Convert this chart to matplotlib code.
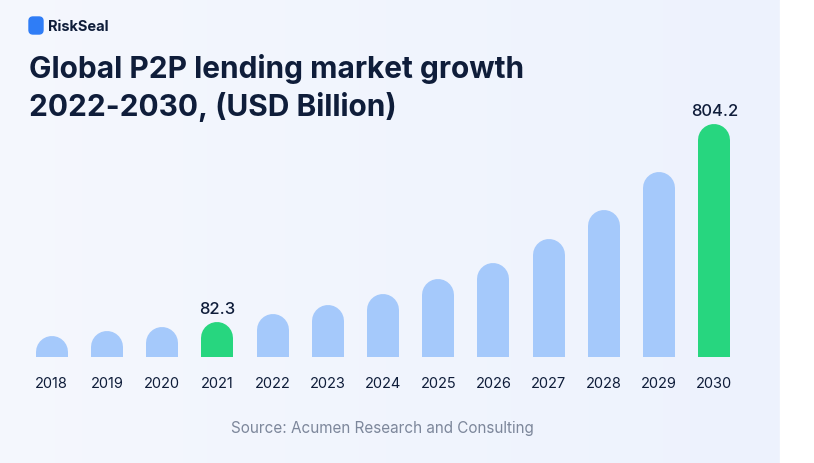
import matplotlib
matplotlib.use("Agg")
import matplotlib.pyplot as plt
import numpy as np
from matplotlib.patches import FancyBboxPatch, Rectangle

years = ["2018","2019","2020","2021","2022","2023","2024","2025","2026","2027","2028","2029","2030"]
values = [31, 49, 64, 82.3, 111, 144, 184, 239, 297, 385, 491, 629, 804.2]
highlight = {"2021": "82.3", "2030": "804.2"}

W, H = 814, 463
fig = plt.figure(figsize=(W/100, H/100), dpi=100)
bg = fig.add_axes([0, 0, 1, 1], zorder=-10)
bg.set_xlim(0, W); bg.set_ylim(H, 0); bg.axis("off")
grad = np.linspace(0, 1, 200)[None, :]
bg.imshow(np.dstack([0.96 - 0.03*grad, 0.97 - 0.02*grad, 0.995 + 0*grad]), extent=[0, 780, H, 0], aspect="auto")
bg.add_patch(Rectangle((780, 0), W-780, H, color="white"))
bg.add_patch(FancyBboxPatch((29, 17), 14, 17, boxstyle="round,pad=0,rounding_size=4", color="#2f7df6"))
bg.text(48, 27, "RiskSeal", fontsize=10.5, fontweight="bold", color="#0f1d3a", va="center", family="Inter")
bg.text(29, 69, "Global P2P lending market growth", fontsize=21.5, fontweight="bold", color="#0f1d3a", va="center", family="Inter")
bg.text(29, 107, "2022-2030, (USD Billion)", fontsize=21.5, fontweight="bold", color="#0f1d3a", va="center", family="Inter")
bg.text(382, 428, "Source: Acumen Research and Consulting", fontsize=11, color="#7d879b", ha="center", va="center", family="Inter")

top_px, bot_px, left_px, right_px = 100, 357, 24, 742
ax = fig.add_axes([left_px/W, 1-bot_px/H, (right_px-left_px)/W, (bot_px-top_px)/H])
ax.patch.set_alpha(0)
upp = 3.646
ymin = -45.3
ax.set_ylim(ymin, ymin + (bot_px-top_px)*upp)
ax.set_xlim(-0.5, len(years)-0.5)
r = 16*upp
barw_pt = 32*72/100
for i, (y, v) in enumerate(zip(years, values)):
    c = "#27d67f" if y in highlight else "#a5c9fb"
    ax.plot([i, i], [ymin-200, v - r], color=c, lw=barw_pt, solid_capstyle="round")
    if y in highlight:
        ax.text(i, v + 20, highlight[y], ha="center", va="bottom", fontsize=12, color="#0f1d3a", family="Inter", fontweight="medium")
    ax.text(i, ymin - 27*upp, y, ha="center", va="center", fontsize=10.5, color="#0f1d3a", family="Inter", clip_on=False)
ax.axis("off")
fig.savefig("out.png", dpi=100)
